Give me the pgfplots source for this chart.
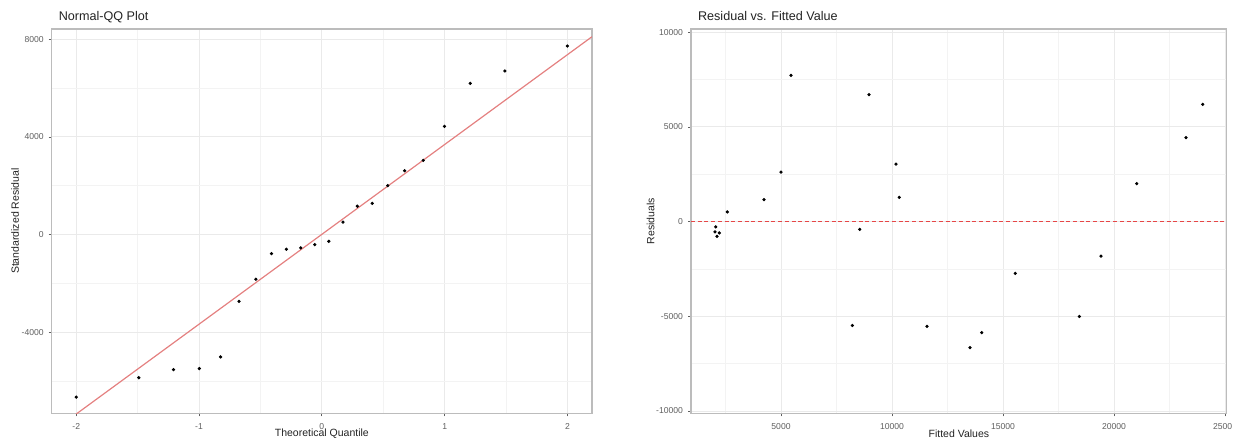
\documentclass[border=0pt]{standalone}
\usepackage{fontspec}
\setmainfont{Liberation Sans}
\usepackage{pgfplots}
\pgfplotsset{compat=1.18}

\definecolor{tickgray}{RGB}{95,95,95}
\definecolor{labelgray}{RGB}{35,35,35}
\definecolor{framegray}{RGB}{188,188,188}
\definecolor{gridmajor}{RGB}{234,234,234}
\definecolor{gridminor}{RGB}{243,243,243}
\definecolor{qqred}{RGB}{228,128,128}
\definecolor{refred}{RGB}{230,70,70}

\pgfplotsset{
  ggbw/.style={
    scale only axis,
    anchor=south west,
    axis line style={framegray, line width=0.7pt},
    grid=both,
    major grid style={gridmajor, line width=0.5pt},
    minor grid style={gridminor, line width=0.45pt},
    tick align=outside,
    xtick pos=bottom, ytick pos=left,
    major tick length=1.5pt,
    minor tick length=0pt,
    every tick/.style={tickgray, line width=0.4pt},
    scaled ticks=false,
    /pgf/number format/assume math mode=true,
    tick label style={tickgray, font=\fontsize{4.3}{5}\selectfont},
    yticklabel style={xshift=1pt},
    label style={labelgray, font=\fontsize{5.25}{6}\selectfont},
    every axis title/.style={labelgray, font=\fontsize{6.3}{7.5}\selectfont,
      anchor=base west, at={(axis description cs:0,1.0221)}},
    clip=true,
  },
  dots/.style={only marks, mark=*, mark size=0.6pt, black},
}

\begin{document}
\begin{tikzpicture}

% Normal QQ plot of the residuals
\begin{axis}[ggbw,
  at={(25.85pt,12.85pt)}, width=270.15pt, height=192.15pt,
  xmin=-2.2, xmax=2.2, ymin=-7316, ymax=8422,
  xtick={-2,-1,0,1,2}, xticklabels={-2,-1,0,1,2},
  minor xtick={-1.5,-0.5,0.5,1.5},
  ytick={-4000,0,4000,8000}, yticklabels={-4000,0,4000,8000},
  minor ytick={-6000,-2000,2000,6000},
  title={Normal-QQ Plot},
  xlabel={Theoretical Quantile},
  xlabel style={at={(axis description cs:0.5,-0.0539)}, anchor=center},
  ylabel={Standardized Residual},
  ylabel style={at={(axis description cs:-0.0679,0.5)}, anchor=center},
]
\addplot[draw=qqred, mark=none, line width=0.6pt] coordinates {(-2.2,-8081) (2.2,8107)};
\addplot[dots] coordinates {
  (-2.000,-6655) (-1.491,-5860) (-1.208,-5530) (-0.998,-5483)
  (-0.825,-5008) (-0.674,-2733) (-0.537,-1825) (-0.410,-779)
  (-0.289,-596) (-0.172,-543) (-0.057,-408) (0.057,-274)
  (0.172,512) (0.289,1167) (0.410,1282) (0.537,2006)
  (0.674,2620) (0.825,3042) (0.998,4435) (1.208,6196)
  (1.491,6704) (2.000,7725)
};
\end{axis}

% Residuals against fitted values
\begin{axis}[ggbw,
  at={(345.5pt,12.85pt)}, width=267.85pt, height=192.15pt,
  xmin=946, xmax=25077, ymin=-10121, ymax=10174,
  xtick={5000,10000,15000,20000,25000},
  xticklabels={5000,10000,15000,20000,{2500\phantom{0}}},
  minor xtick={2500,7500,12500,17500,22500},
  ytick={-10000,-5000,0,5000,10000},
  yticklabels={-10000,-5000,0,5000,10000},
  minor ytick={-7500,-2500,2500,7500},
  title={Residual vs. Fitted Value},
  xlabel={Fitted Values},
  xlabel style={at={(axis description cs:0.5,-0.0539)}, anchor=center},
  ylabel={Residuals},
  ylabel style={at={(axis description cs:-0.0752,0.5)}, anchor=center},
]
% zero reference line (dash set before the colour)
\addplot[dash pattern=on 2pt off 1.35pt, line width=0.65pt, mark=none,
  draw=refred, color=refred] coordinates {(946,0) (25077,0)};
\addplot[dots] coordinates {
  (2027,-543) (2059,-274) (2117,-779) (2221,-596) (2581,512)
  (4234,1167) (5000,2620) (5450,7725) (8212,-5483) (8545,-408)
  (8964,6704) (10180,3042) (10329,1282) (11577,-5530) (13514,-6655)
  (14041,-5860) (15554,-2733) (18437,-5008) (19414,-1825)
  (21023,2006) (23243,4435) (23995,6196)
};
\end{axis}

\pgfresetboundingbox
\path[use as bounding box] (0,0) rectangle (624pt,219.5pt);
\end{tikzpicture}
\end{document}
